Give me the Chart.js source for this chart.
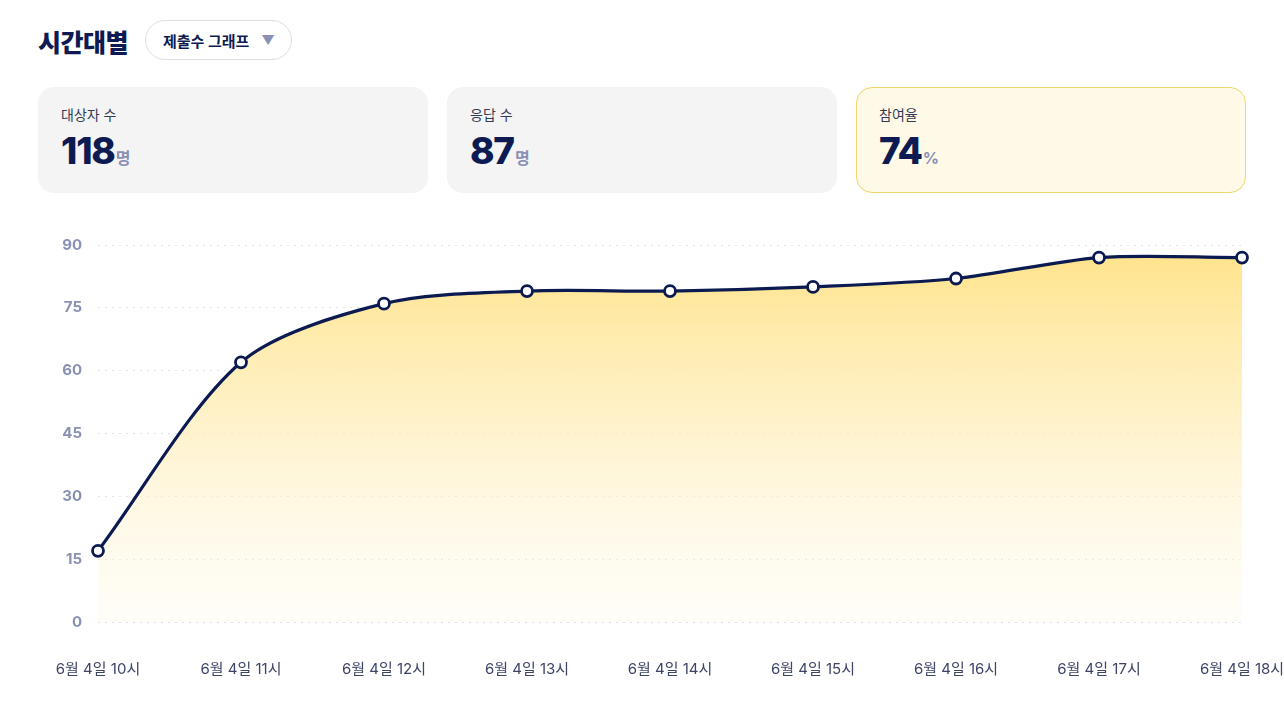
<!DOCTYPE html>
<html lang="ko">
<head>
<meta charset="utf-8">
<script src="https://cdn.jsdelivr.net/npm/chart.js@4.4.1/dist/chart.umd.min.js"></script>
<style>
    html, body { margin: 0; padding: 0; background: #fff; }
    body { width: 1284px; height: 708px; position: relative; overflow: hidden;
           font-family: Inter, "Noto Sans CJK KR", sans-serif; color: #0d1b52; }
    .title { position: absolute; left: 38px; top: 23px; font-size: 25px; font-weight: 800; letter-spacing: -0.5px; }
    .select { position: absolute; left: 145px; top: 20px; width: 147px; height: 40px; box-sizing: border-box;
              border: 1px solid #dedfe4; border-radius: 20px; font-size: 15px; font-weight: 700;
              display: flex; align-items: center; padding-left: 17px; color: #0d1b52; }
    .select .arr { color: #8a91b4; font-size: 13px; margin-left: 12px; }
    .card { position: absolute; top: 87px; width: 390px; height: 106px; box-sizing: border-box;
            background: #f4f4f5; border-radius: 16px; padding: 18px 0 0 23px; }
    .card.hl { background: #fff9e8; border: 1px solid #f0d66c; padding: 17px 0 0 22px; }
    .card .lbl { font-size: 14px; color: #333a55; line-height: 20px; }
    .card .num { margin-top: 5px; font-size: 37px; font-weight: 800; letter-spacing: -1.2px; line-height: 42px; }
    .card .unit { font-size: 16px; font-weight: 700; color: #8a91b4; letter-spacing: 0; margin-left: 1px; }
    #chart { position: absolute; left: 0; top: 220px; }
</style>
</head>
<body>
<div class="title">시간대별</div>
<div class="select">제출수 그래프<span class="arr">▼</span></div>

<div class="card" style="left:38px"><div class="lbl">대상자 수</div><div class="num">118<span class="unit">명</span></div></div>
<div class="card" style="left:447px"><div class="lbl">응답 수</div><div class="num">87<span class="unit">명</span></div></div>
<div class="card hl" style="left:856px"><div class="lbl">참여율</div><div class="num">74<span class="unit">%</span></div></div>

<canvas id="chart" width="1284" height="488"></canvas>

<script>
// hourly submissions (cumulative)
const hours = ['6월 4일 10시', '6월 4일 11시', '6월 4일 12시', '6월 4일 13시', '6월 4일 14시',
               '6월 4일 15시', '6월 4일 16시', '6월 4일 17시', '6월 4일 18시']
const submissions = [17, 62, 76, 79, 79, 80, 82, 87, 87]
const yTicks = [0, 15, 30, 45, 60, 75, 90]

const navy = '#0b1a50'

function areaFill(context) {
    const area = context.chart.chartArea
    if (!area) return 'rgba(255,227,140,0.6)'
    const g = context.chart.ctx.createLinearGradient(0, area.top, 0, area.bottom)
    g.addColorStop(0, 'rgba(255,225,130,0.95)')
    g.addColorStop(0.5, 'rgba(255,238,185,0.7)')
    g.addColorStop(1, 'rgba(255,248,228,0.25)')
    return g
}

const chart = new Chart(document.getElementById('chart'), {
    type: 'line',
    data: {
        labels: hours,
        datasets: [{
            data: submissions,
            borderColor: navy,
            borderWidth: 3.2,
            fill: 'origin',
            backgroundColor: areaFill,
            tension: 0.3,
            pointRadius: 5.5,
            pointHoverRadius: 5.5,
            pointBorderWidth: 2.8,
            pointBackgroundColor: '#fff',
            pointBorderColor: navy
        }]
    },
    options: {
        responsive: false,
        animation: false,
        layout: { padding: { top: 24, right: 42, bottom: 0, left: 0 } },
        scales: {
            y: {
                min: 0,
                max: 90,
                afterFit: function(scale) { scale.width = 98 },
                afterBuildTicks: function(scale) { scale.ticks = yTicks.map(v => ({ value: v })) },
                ticks: {
                    padding: 16,
                    color: '#8a91b4',
                    font: { size: 15, weight: 'bold', family: 'Inter, "Noto Sans CJK KR", sans-serif' }
                },
                grid: { color: '#e2e3e8', lineWidth: 1, drawTicks: false },
                border: { display: false, dash: [2, 5] }
            },
            x: {
                // keep the plot edge fixed, the layout padding already leaves room for the last label
                afterFit: function(scale) { scale.paddingLeft = 0; scale.paddingRight = 0 },
                ticks: {
                    padding: 30,
                    color: '#3d4466',
                    maxRotation: 0,
                    autoSkip: false,
                    font: { size: 15, family: 'Inter, "Noto Sans CJK KR", sans-serif' }
                },
                grid: { display: false },
                border: { display: false }
            }
        },
        plugins: {
            legend: { display: false },
            tooltip: { enabled: false }
        }
    }
})
</script>
</body>
</html>
